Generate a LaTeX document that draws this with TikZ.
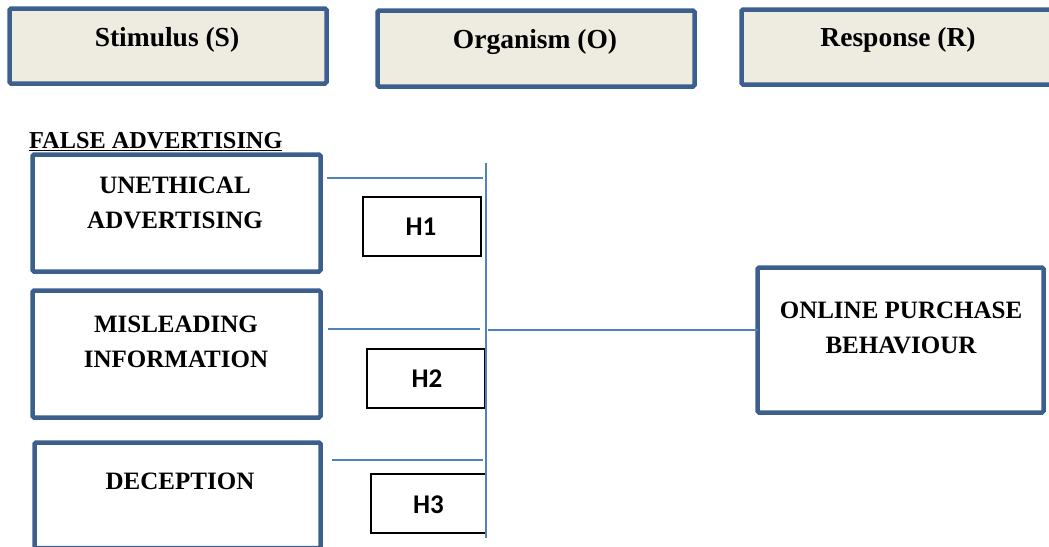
\documentclass[tikz,border=0pt]{standalone}
\usepackage{fontspec}
\setmainfont{Liberation Serif}
\newfontfamily\hfont{Carlito}
\usetikzlibrary{calc}
\definecolor{frameblue}{HTML}{3C5F8E}
\definecolor{linkblue}{HTML}{4F81BD}
\definecolor{headfill}{HTML}{EEECE1}
\tikzset{
  stagebox/.style={draw=frameblue, line width=4.5pt, rounded corners=1.5pt, fill=headfill, inner sep=0pt, outer sep=0pt},
  varbox/.style={draw=frameblue, line width=4.5pt, rounded corners=1.5pt, fill=white, inner sep=0pt, outer sep=0pt},
  hypbox/.style={draw=black, line width=1.3pt, fill=white, inner sep=0pt, outer sep=0pt},
  title/.style={font=\bfseries\fontsize{27.5}{30}\selectfont, anchor=base, inner sep=0pt},
  vartext/.style={font=\bfseries\fontsize{25}{34.5}\selectfont, align=center, anchor=base, inner sep=0pt},
  hyptext/.style={font=\hfont\bfseries\fontsize{27}{30}\selectfont, anchor=base, inner sep=0pt},
  link/.style={draw=linkblue, line width=1.5pt}
}
\begin{document}
\begin{tikzpicture}[x=1pt, y=-1pt]
\useasboundingbox (0,0) rectangle (1049,546);

% stage headers
\node[stagebox, minimum width=317pt, minimum height=75pt] (stim) at (168,46) {};
\node[title] (stimT) at (167,46) {Stimulus (S)};
\node[stagebox, minimum width=317pt, minimum height=76pt] (org) at (536,48.5) {};
\node[title] (orgT) at (535,48) {Organism (O)};
\node[stagebox, minimum width=317pt, minimum height=75pt] (resp) at (900,47) {};
\node[title] (respT) at (898,46) {Response (R)};

% group heading
\node[font=\bfseries\fontsize{24.3}{30}\selectfont, anchor=base west, inner sep=0pt] (fa) at (29,148) {\underline{FALSE ADVERTISING}};

% independent variables (anchor = baseline of the last line)
\node[varbox, minimum width=288pt, minimum height=117pt] (ua) at (176.5,213) {};
\node[vartext] (uaT) at (175,228) {UNETHICAL\\ADVERTISING};
\node[varbox, minimum width=288pt, minimum height=127pt] (mi) at (176.5,354) {};
\node[vartext] (miT) at (176,367) {MISLEADING\\INFORMATION};
\node[varbox, minimum width=286pt, minimum height=105.5pt] (de) at (177.5,495.25) {};
\node[vartext] (deT) at (180,489) {DECEPTION};

% dependent variable
\node[varbox, minimum width=286pt, minimum height=145pt] (ob) at (900.5,340) {};
\node[vartext] (obT) at (901,353) {ONLINE PURCHASE\\BEHAVIOUR};

% hypotheses
\node[hypbox, minimum width=118pt, minimum height=59pt] (h1) at (422,226.5) {};
\node[hyptext] (h1T) at (421,235) {H1};
\node[hypbox, minimum width=118pt, minimum height=59pt] (h2) at (426,378.5) {};
\node[hyptext] (h2T) at (427,387) {H2};
\node[hypbox, minimum width=115pt, minimum height=59pt] (h3) at (428.5,503.5) {};
\node[hyptext] (h3T) at (428.5,513) {H3};

% connector ends
\coordinate (barTop) at (486,163);
\coordinate (barBot) at (486,538);
\coordinate (ua1) at (327,178);
\coordinate (ua2) at (483,178);
\coordinate (mi1) at (328,329);
\coordinate (mi2) at (480,329);
\coordinate (de1) at (332,460);
\coordinate (de2) at (483,460);
\coordinate (ob1) at (488,330);
\coordinate (ob2) at (ob.west |- ob1);

% connectors
\draw[link] (barTop) -- (barBot);
\draw[link] (ua1) -- (ua2);
\draw[link] (mi1) -- (mi2);
\draw[link] (de1) -- (de2);
\draw[link] (ob1) -- (ob2);
\end{tikzpicture}
\end{document}
